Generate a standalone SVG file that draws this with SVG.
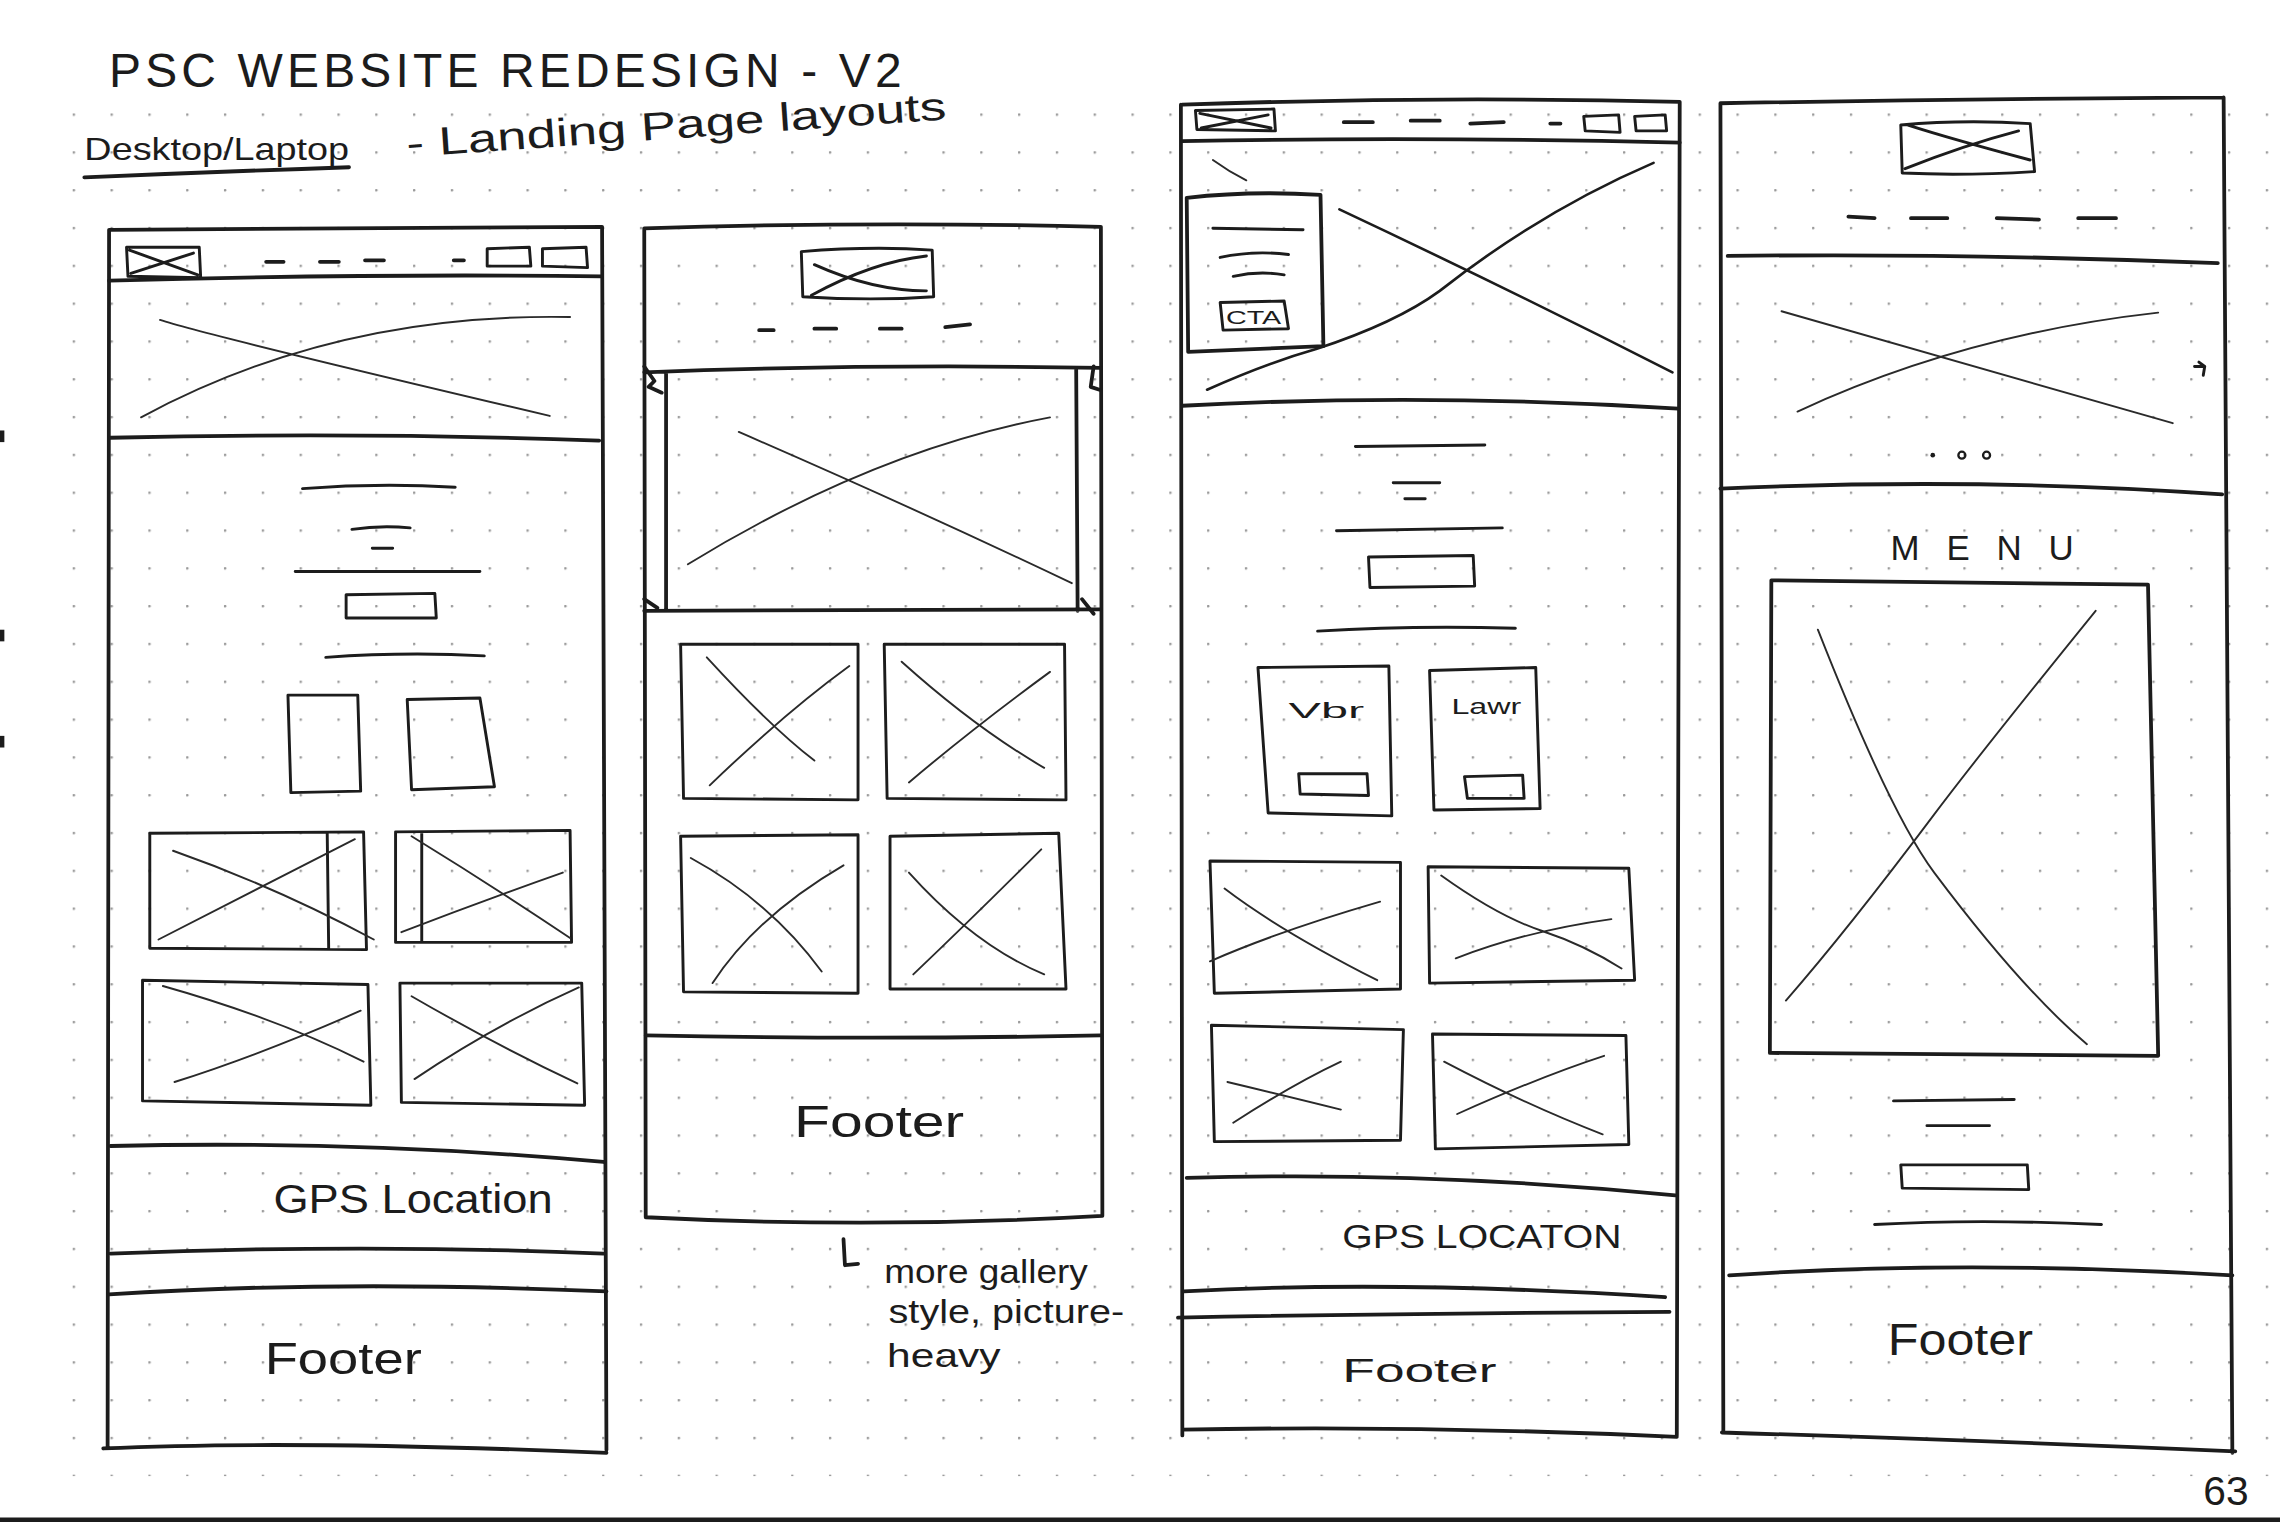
<svg xmlns="http://www.w3.org/2000/svg" width="2280" height="1523" viewBox="0 0 2280 1523">
<defs>
<pattern id="dots" x="24" y="0" width="26" height="26" patternUnits="userSpaceOnUse">
<circle cx="0.8" cy="0.8" r="0.9" fill="#9a9a9a"/>
</pattern>
<style>
.s{fill:none;stroke:#1c1c1c;stroke-width:2.6;stroke-linecap:round;stroke-linejoin:round}
.m{fill:none;stroke:#1c1c1c;stroke-width:2;stroke-linecap:round;stroke-linejoin:round}
.t{fill:none;stroke:#2a2a2a;stroke-width:1.3;stroke-linecap:round}
.hw{font-family:"Liberation Sans","DejaVu Sans",sans-serif;fill:#1c1c1c}
.b{fill:#1c1c1c;stroke:none}
</style>
</defs>
<rect width="2280" height="1523" fill="#ffffff"/>
<g transform="scale(1.4543)">
<rect x="40" y="70" width="1522" height="945" fill="url(#dots)"/>
<path class="s" d="M0,1045 L1568,1045" style="stroke-width:3"/>
<rect class="b" x="0" y="296" width="3" height="8"/>
<rect class="b" x="0" y="433" width="3" height="8"/>
<rect class="b" x="0" y="506" width="3" height="8"/>

<g id="title">
<text class="hw" x="75" y="60" font-size="33" textLength="545" lengthAdjust="spacing">PSC  WEBSITE  REDESIGN  -  V2</text>
<text class="hw" x="58" y="110" font-size="21" textLength="182" lengthAdjust="spacingAndGlyphs">Desktop/Laptop</text>
<path class="s" d="M58,122 Q150,118 240,115"/>
<text class="hw" x="280" y="108" font-size="27" transform="rotate(-4 280 108)" textLength="372" lengthAdjust="spacingAndGlyphs">- Landing Page layouts</text>
</g>

<g id="frame-1">
<path class="s" d="M76,158 L414,156 M75,158 L74,995 M414,156 L417,997 M71,996 Q200,990 417,999"/>
<path class="s" d="M75,193 Q250,188 414,190"/>
<path class="m" d="M87,170 L137,170 L138,191 L88,190 Z M89,172 L136,189 M90,188 L133,174"/>
<path class="s" d="M183,180 L195,180 M220,180 L233,180 M251,179 L264,179 M312,179 L319,179"/>
<path class="m" d="M335,171 L364,170 L365,183 L335,183 Z M373,171 L403,170 L404,184 L373,183 Z"/>
<path class="t" d="M97,287 Q230,215 392,218 M110,220 Q140,230 378,286"/>
<path class="s" d="M76,301 Q250,297 412,303"/>
<path class="m" d="M208,336 Q260,332 313,335 M242,364 Q262,361 282,363 M256,377 L270,377 M203,393 L330,393"/>
<path class="m" d="M238,409 L299,408 L300,425 L238,425 Z"/>
<path class="m" d="M224,452 Q280,448 333,451"/>
<path class="m" d="M198,478 L200,545 L248,544 L246,478 Z M280,481 L283,543 L340,541 L330,480 Z"/>
<path class="m" d="M103,573 L250,572 L252,653 L103,652 Z M225,573 L226,652"/>
<path class="t" d="M109,646 Q180,610 244,577 M119,585 Q190,610 257,646"/>
<path class="m" d="M272,572 L392,571 L393,648 L272,648 Z M290,573 L290,648"/>
<path class="t" d="M276,641 Q330,620 387,600 M283,575 Q340,610 392,645"/>
<path class="m" d="M98,674 L253,677 L255,760 L98,757 Z"/>
<path class="t" d="M112,678 Q190,700 250,730 M120,744 Q180,725 248,695"/>
<path class="m" d="M275,676 L400,676 L402,760 L276,758 Z"/>
<path class="t" d="M283,685 Q340,718 397,745 M285,742 Q340,705 398,679"/>
<path class="s" d="M76,788 Q250,784 415,799"/>
<text class="hw" x="188" y="834" font-size="28" textLength="192" lengthAdjust="spacingAndGlyphs">GPS Location</text>
<path class="s" d="M76,862 Q250,855 415,862"/>
<path class="s" d="M75,890 Q230,880 417,888"/>
<text class="hw" x="182" y="945" font-size="30" textLength="108" lengthAdjust="spacingAndGlyphs">Footer</text>
</g>

<g id="frame-2">
<path class="s" d="M443,157 Q600,152 757,156 M443,157 L444,837 M757,156 L758,836 M444,837 Q600,845 758,836"/>
<path class="m" d="M551,173 Q600,169 641,172 L642,204 Q600,207 552,204 Z M560,182 Q600,200 637,200 M558,203 Q600,180 637,176"/>
<path class="s" d="M522,227 L532,227 M560,226 L575,226 M605,226 L620,226 M650,225 L667,223"/>
<path class="s" d="M443,256 Q600,250 757,253 M458,256 L458,420 M740,254 L741,420 M443,420 L757,419"/>
<path class="s" d="M443,252 L450,262 L446,266 L455,270 M752,252 L750,266 L756,268 M443,412 L452,418 M744,412 L752,422"/>
<path class="t" d="M473,388 Q600,310 722,287 M508,297 Q630,350 737,401"/>
<path class="m" d="M468,443 L590,443 L590,550 L470,549 Z"/>
<path class="t" d="M486,452 Q530,500 560,523 M488,540 Q540,490 584,458"/>
<path class="m" d="M608,443 L732,443 L733,550 L610,549 Z"/>
<path class="t" d="M620,455 Q670,500 718,528 M625,538 Q670,500 722,462"/>
<path class="m" d="M468,575 L590,574 L590,683 L470,682 Z"/>
<path class="t" d="M475,590 Q530,620 565,668 M490,676 Q520,630 580,595"/>
<path class="m" d="M612,575 L728,573 L733,680 L612,680 Z"/>
<path class="t" d="M625,600 Q670,650 718,670 M628,670 Q670,630 716,584"/>
<path class="s" d="M444,712 Q600,715 757,712"/>
<text class="hw" x="546" y="782" font-size="30" textLength="117" lengthAdjust="spacingAndGlyphs">Footer</text>
</g>

<g id="connectors">
<path class="s" d="M580,852 L581,870 L590,869"/>
</g>

<g id="note">
<text class="hw" x="608" y="882" font-size="23" textLength="140" lengthAdjust="spacingAndGlyphs">more gallery</text>
<text class="hw" x="611" y="910" font-size="23" textLength="162" lengthAdjust="spacingAndGlyphs">style, picture-</text>
<text class="hw" x="610" y="940" font-size="23" textLength="78" lengthAdjust="spacingAndGlyphs">heavy</text>
</g>

<g id="frame-3">
<path class="s" d="M813,72 Q980,66 1155,70 M812,72 L813,987 M1155,70 L1153,987 M813,983 Q980,980 1153,988"/>
<path class="s" d="M813,97 Q980,94 1155,98"/>
<path class="m" d="M822,76 L876,75 L877,90 L823,89 Z M825,78 L874,88 M826,88 L872,79"/>
<path class="s" d="M924,84 L944,84 M970,83 L990,83 M1011,85 L1034,84 M1066,85 L1073,85"/>
<path class="m" d="M1089,80 L1113,79 L1114,91 L1090,90 Z M1124,80 L1145,79 L1146,90 L1125,90 Z"/>
<path class="t" d="M834,110 Q845,118 857,124"/>
<path class="s" d="M816,136 Q860,131 908,134 L910,238 Q860,240 817,242 Z"/>
<path class="m" d="M834,157 L896,158 M839,177 Q862,172 886,175 M848,190 Q866,186 883,189"/>
<path class="m" d="M839,208 L883,207 L886,226 L841,227 Z"/>
<text class="hw" x="843" y="223" font-size="13" textLength="38" lengthAdjust="spacingAndGlyphs">CTA</text>
<path class="m" d="M830,268 Q870,250 905,240 Q960,222 990,200 Q1060,145 1137,112" style="stroke-width:1.8"/>
<path class="m" d="M921,144 Q1040,200 1150,256" style="stroke-width:1.8"/>
<path class="s" d="M813,279 Q980,270 1154,281"/>
<path class="m" d="M932,307 L1021,306 M958,332 L990,332 M966,343 L980,343 M919,365 L1033,363"/>
<path class="m" d="M941,383 L1013,382 L1014,403 L942,404 Z"/>
<path class="m" d="M906,434 Q970,430 1042,432"/>
<path class="m" d="M865,459 L955,458 L957,561 L872,559 Z"/>
<text class="hw" x="886" y="494" font-size="15" textLength="52" lengthAdjust="spacingAndGlyphs">Vbr</text>
<path class="m" d="M893,532 L940,532 L941,547 L894,546 Z"/>
<path class="m" d="M983,461 L1056,459 L1059,556 L986,557 Z"/>
<text class="hw" x="998" y="491" font-size="15" textLength="48" lengthAdjust="spacingAndGlyphs">Lawr</text>
<path class="m" d="M1007,534 L1047,533 L1048,549 L1009,549 Z"/>
<path class="m" d="M832,592 L963,593 L963,680 L835,683 Z"/>
<path class="t" d="M832,661 Q880,640 949,620 M842,611 Q880,640 947,674"/>
<path class="m" d="M982,596 L1120,597 L1124,674 L983,676 Z"/>
<path class="t" d="M991,602 Q1030,630 1060,640 Q1090,650 1115,666 M1001,659 Q1050,640 1108,632"/>
<path class="m" d="M833,705 L965,708 L963,784 L835,785 Z"/>
<path class="t" d="M844,744 Q890,755 922,763 M848,772 Q890,745 922,730"/>
<path class="m" d="M985,711 L1118,712 L1120,787 L987,790 Z"/>
<path class="t" d="M993,730 Q1050,760 1102,780 M1002,766 Q1060,740 1103,726"/>
<path class="s" d="M816,810 Q980,805 1152,822"/>
<text class="hw" x="923" y="858" font-size="23" textLength="192" lengthAdjust="spacingAndGlyphs">GPS LOCATON</text>
<path class="s" d="M814,888 Q960,880 1145,892"/>
<path class="s" d="M810,906 Q960,903 1148,902"/>
<text class="hw" x="923" y="950" font-size="23" textLength="106" lengthAdjust="spacingAndGlyphs">Footer</text>
</g>

<g id="frame-4">
<path class="s" d="M1183,71 Q1350,68 1529,67 M1183,71 L1185,985 M1529,67 L1535,999 M1184,985 Q1350,990 1537,998"/>
<path class="m" d="M1307,86 Q1350,82 1396,85 L1399,118 Q1350,121 1308,119 Z M1312,86 Q1340,95 1396,110 M1310,116 Q1350,100 1388,90"/>
<path class="s" d="M1271,149 L1289,150 M1314,150 L1339,150 M1373,150 L1402,151 M1429,150 L1455,150"/>
<path class="s" d="M1188,176 Q1350,174 1525,181"/>
<path class="t" d="M1225,214 Q1350,250 1494,291 M1236,283 Q1350,230 1484,215"/>
<path class="m" d="M1509,252 L1516,252 L1515,258 M1512,249 L1516,252"/>
<circle class="b" cx="1329" cy="313" r="1.6"/>
<circle cx="1349" cy="313" r="2.4" fill="none" stroke="#1c1c1c" stroke-width="1.6"/>
<circle cx="1366" cy="313" r="2.4" fill="none" stroke="#1c1c1c" stroke-width="1.6"/>
<path class="s" d="M1183,336 Q1360,328 1528,340"/>
<text class="hw" x="1300" y="385" font-size="24" textLength="126" lengthAdjust="spacing">MENU</text>
<path class="s" d="M1218,399 L1477,402 L1484,726 L1217,724 Z"/>
<path class="t" d="M1250,433 Q1300,560 1330,600 Q1390,680 1435,718 M1441,420 Q1360,520 1330,560 Q1270,640 1228,688"/>
<path class="m" d="M1302,757 L1385,756 M1325,774 L1368,774"/>
<path class="m" d="M1307,801 L1394,801 L1395,818 L1308,817 Z"/>
<path class="m" d="M1289,842 Q1360,838 1445,842"/>
<path class="s" d="M1189,877 Q1350,866 1535,877"/>
<text class="hw" x="1298" y="932" font-size="30" textLength="100" lengthAdjust="spacingAndGlyphs">Footer</text>
</g>

<text id="page-number" class="hw" x="1515" y="1035" font-size="28">63</text>
</g>
</svg>
